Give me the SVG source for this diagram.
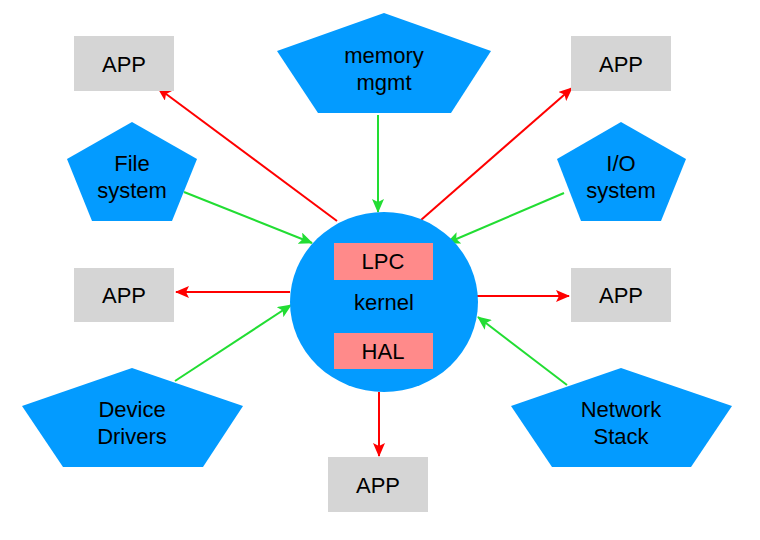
<svg xmlns="http://www.w3.org/2000/svg" width="760" height="540" viewBox="0 0 760 540">
<defs>
<style>
.pent{fill:#039BFF}
.app{fill:#D5D5D5}
.sub{fill:#FF8A8A}
text{font-family:"Liberation Sans",Arial,sans-serif;font-size:22px;fill:#000;text-anchor:middle}
.red{stroke:#FF0000;stroke-width:2;fill:none;marker-end:url(#ar)}
.grn{stroke:#22DD33;stroke-width:2;fill:none;marker-end:url(#ag)}
</style>
<marker id="ar" markerUnits="userSpaceOnUse" markerWidth="14" markerHeight="12" refX="13" refY="6" orient="auto" viewBox="0 0 14 12">
<path d="M0,0 L14,6 L0,12 L3,6 Z" fill="#FF0000"/>
</marker>
<marker id="ag" markerUnits="userSpaceOnUse" markerWidth="14" markerHeight="12" refX="13" refY="6" orient="auto" viewBox="0 0 14 12">
<path d="M0,0 L14,6 L0,12 L3,6 Z" fill="#22DD33"/>
</marker>
</defs>
<rect width="760" height="540" fill="#FFFFFF"/>
<g id="connectors">
<line class="red" x1="337" y1="221" x2="158" y2="88"/>
<line class="red" x1="421" y1="220" x2="572" y2="88"/>
<line class="red" x1="290" y1="292" x2="176" y2="292"/>
<line class="red" x1="477" y1="296" x2="569" y2="296"/>
<line class="red" x1="379" y1="392" x2="379" y2="456"/>
<line class="grn" x1="378" y1="115" x2="378" y2="212"/>
<line class="grn" x1="184" y1="192" x2="312" y2="243"/>
<line class="grn" x1="564" y1="193" x2="447" y2="243"/>
<line class="grn" x1="175" y1="381" x2="291" y2="305"/>
<line class="grn" x1="567" y1="385" x2="478" y2="317"/>
</g>
<g id="memory">
<polygon class="pent" points="384,13 491,51 451,113 318,113 277,51"/>
<text x="384" y="63">memory</text>
<text x="384" y="90">mgmt</text>
</g>
<g id="filesystem">
<polygon class="pent" points="132,122 197,159 172,221 92,221 67,159"/>
<text x="132" y="171">File</text>
<text x="132" y="198">system</text>
</g>
<g id="iosystem">
<polygon class="pent" points="621,122 686,159 661,221 581,221 557,159"/>
<text x="621" y="171">I/O</text>
<text x="621" y="198">system</text>
</g>
<g id="devicedrivers">
<polygon class="pent" points="132,368 243,406 203,467 63,467 22,406"/>
<text x="132" y="417">Device</text>
<text x="132" y="444">Drivers</text>
</g>
<g id="networkstack">
<polygon class="pent" points="621,368 732,406 691,467 552,467 511,406"/>
<text x="621" y="417">Network</text>
<text x="621" y="444">Stack</text>
</g>
<g id="kernel">
<ellipse class="pent" cx="384" cy="302" rx="94" ry="90"/>
<rect class="sub" x="334" y="243" width="99" height="37"/>
<text x="383" y="269">LPC</text>
<text x="384" y="310">kernel</text>
<rect class="sub" x="334" y="333" width="99" height="36"/>
<text x="383" y="359">HAL</text>
</g>
<g id="app1">
<rect class="app" x="74" y="36" width="100" height="55"/>
<text x="124" y="72">APP</text>
</g>
<g id="app2">
<rect class="app" x="571" y="36" width="100" height="55"/>
<text x="621" y="72">APP</text>
</g>
<g id="app3">
<rect class="app" x="74" y="268" width="100" height="54"/>
<text x="124" y="303">APP</text>
</g>
<g id="app4">
<rect class="app" x="571" y="268" width="100" height="54"/>
<text x="621" y="303">APP</text>
</g>
<g id="app5">
<rect class="app" x="328" y="457" width="100" height="55"/>
<text x="378" y="493">APP</text>
</g>
</svg>
